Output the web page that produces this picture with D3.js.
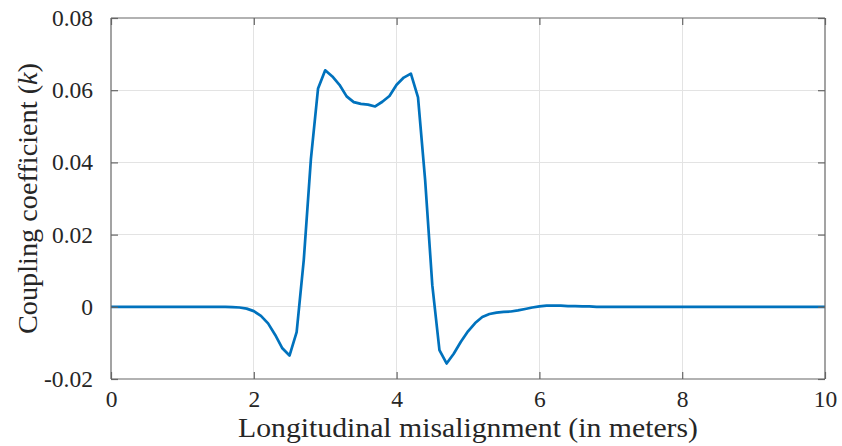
<!DOCTYPE html>
<html>
<head>
<meta charset="utf-8">
<script src="https://cdn.jsdelivr.net/npm/d3@7"></script>
<style>
  html, body { margin: 0; padding: 0; background: #fff; }
  svg { display: block; }
  text { font-family: "Liberation Serif", "DejaVu Serif", serif; fill: #262626; }
</style>
</head>
<body>
<svg id="chart" width="842" height="446"></svg>
<script>
// ---- data ----
const xValues = [
  0.0,0.1,0.2,0.3,0.4,0.5,0.6,0.7,0.8,0.9,
  1.0,1.1,1.2,1.3,1.4,1.5,1.6,1.7,1.8,1.9,
  2.0,2.1,2.2,2.3,2.4,2.5,2.6,2.7,2.8,2.9,
  3.0,3.1,3.2,3.3,3.4,3.5,3.6,3.7,3.8,3.9,
  4.0,4.1,4.2,4.3,4.4,4.5,4.6,4.7,4.8,4.9,
  5.0,5.1,5.2,5.3,5.4,5.5,5.6,5.7,5.8,5.9,
  6.0,6.1,6.2,6.3,6.4,6.5,6.6,6.7,6.8,6.9,
  7.0,7.5,8.0,8.5,9.0,9.5,10.0
];
const kValues = [
  0,0,0,0,0,0,0,0,0,0,
  0,0,0,0,0,0,0,-0.0001,-0.0002,-0.0005,
  -0.0012,-0.0025,-0.0046,-0.0078,-0.0115,-0.0135,-0.0070,0.0130,0.0410,0.0605,
  0.0655,0.0638,0.0615,0.0583,0.0567,0.0562,0.0560,0.0555,0.0568,0.0584,
  0.0615,0.0635,0.0646,0.0580,0.0350,0.0060,-0.0120,-0.0157,-0.0130,-0.0097,
  -0.0068,-0.0045,-0.0028,-0.0020,-0.0016,-0.0014,-0.0013,-0.0010,-0.0006,-0.0002,
  0.0001,0.0003,0.0003,0.0003,0.0002,0.0002,0.0001,0.0001,0,0,
  0,0,0,0,0,0,0
];
const xTicks = [0, 2, 4, 6, 8, 10];
const yTicks = [-0.02, 0, 0.02, 0.04, 0.06, 0.08];
const yTickLabels = ["-0.02", "0", "0.02", "0.04", "0.06", "0.08"];
const xLabel = "Longitudinal misalignment (in meters)";
const yLabelMain = "Coupling coefficient (";
const yLabelVar = "k";
const yLabelEnd = ")";

// ---- layout ----
const margin = { left: 111, right: 17, top: 18, bottom: 67 };
const W = 842, H = 446;
const svg = d3.select("#chart");
const x = d3.scaleLinear().domain([0, 10]).range([margin.left, W - margin.right]);
const y = d3.scaleLinear().domain([-0.02, 0.08]).range([H - margin.bottom, margin.top]);
const x0 = x.range()[0], x1 = x.range()[1], y0 = y.range()[0], y1 = y.range()[1];

const axisColor = "#666666";
const fontSize = 23.5;
const labelSize = 26.5;

// grid
svg.append("g").selectAll("line.gx").data(xTicks.slice(1, -1)).join("line")
  .attr("x1", d => x(d)).attr("x2", d => x(d)).attr("y1", y1).attr("y2", y0)
  .attr("stroke", "#e3e3e3").attr("stroke-width", 1).attr("shape-rendering", "crispEdges");
svg.append("g").selectAll("line.gy").data(yTicks.slice(1, -1)).join("line")
  .attr("x1", x0).attr("x2", x1).attr("y1", d => y(d)).attr("y2", d => y(d))
  .attr("stroke", "#e3e3e3").attr("stroke-width", 1).attr("shape-rendering", "crispEdges");

// line
const line = d3.line().x((d, i) => x(xValues[i])).y(d => y(d));
svg.append("path").datum(kValues)
  .attr("fill", "none").attr("stroke", "#0072BD").attr("stroke-width", 2.7)
  .attr("stroke-linejoin", "round").attr("d", line);

// axes using d3 axis generators (ticks inward)
const tickLen = 7;
const bottomAxis = d3.axisBottom(x).tickValues(xTicks).tickSize(-tickLen).tickPadding(tickLen + 4).tickFormat(d3.format("d"));
const topAxis = d3.axisTop(x).tickValues(xTicks).tickSize(-tickLen).tickFormat("");
const leftAxis = d3.axisLeft(y).tickValues(yTicks).tickSize(-tickLen).tickPadding(tickLen + 11)
  .tickFormat((d, i) => yTickLabels[i]);
const rightAxis = d3.axisRight(y).tickValues(yTicks).tickSize(-tickLen).tickFormat("");

function style(g) {
  g.select(".domain").attr("stroke", axisColor).attr("stroke-width", 1.2);
  g.selectAll(".tick line").attr("stroke", axisColor).attr("stroke-width", 1.2);
  g.selectAll(".tick text").attr("font-family", "Liberation Serif, serif")
    .attr("font-size", fontSize).attr("fill", "#262626");
}
svg.append("g").attr("transform", `translate(0,${y0})`).call(bottomAxis).call(style)
  .call(g => g.select(".domain").attr("d", `M${x0},0H${x1}`));
svg.append("g").attr("transform", `translate(0,${y1})`).call(topAxis).call(style)
  .call(g => g.select(".domain").attr("d", `M${x0},0H${x1}`));
svg.append("g").attr("transform", `translate(${x0},0)`).call(leftAxis).call(style)
  .call(g => g.select(".domain").attr("d", `M0,${y0}V${y1}`));
svg.append("g").attr("transform", `translate(${x1},0)`).call(rightAxis).call(style)
  .call(g => g.select(".domain").attr("d", `M0,${y0}V${y1}`));

// axis labels
svg.append("text")
  .attr("x", (x0 + x1) / 2).attr("y", 437)
  .attr("text-anchor", "middle").attr("font-size", labelSize)
  .attr("textLength", 460).attr("lengthAdjust", "spacingAndGlyphs")
  .text(xLabel);

const yl = svg.append("text")
  .attr("transform", `translate(37,${(y0 + y1) / 2}) rotate(-90)`)
  .attr("text-anchor", "middle").attr("font-size", labelSize)
  .attr("textLength", 271).attr("lengthAdjust", "spacingAndGlyphs");
yl.append("tspan").text(yLabelMain);
yl.append("tspan").attr("font-style", "italic").text(yLabelVar);
yl.append("tspan").text(yLabelEnd);
</script>
</body>
</html>
